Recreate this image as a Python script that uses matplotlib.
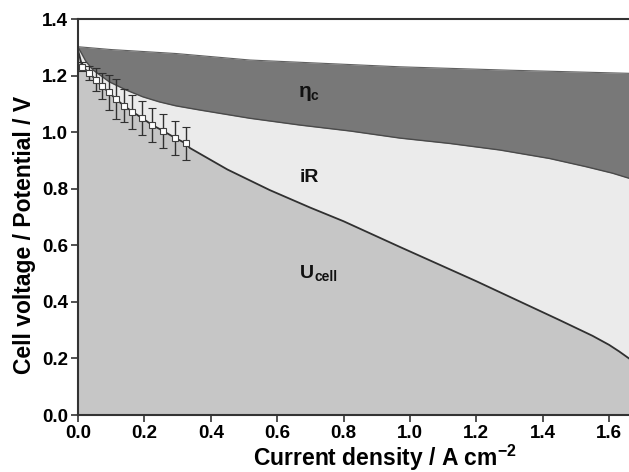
import matplotlib
matplotlib.use("Agg")
import matplotlib.pyplot as plt
import numpy as np

plt.rcParams['font.family'] = ['Liberation Sans', 'DejaVu Sans']
plt.rcParams['font.weight'] = 'bold'
plt.rcParams['mathtext.fontset'] = 'custom'
plt.rcParams['mathtext.rm'] = 'Liberation Sans:bold'
plt.rcParams['mathtext.bf'] = 'Liberation Sans:bold'
plt.rcParams['mathtext.it'] = 'Liberation Sans:bold'

# Upper boundary (eta_c region top)
top_x = [0.0, 0.1, 0.295, 0.518, 0.97, 1.3, 1.66]
top_y = [1.302, 1.292, 1.278, 1.255, 1.231, 1.219, 1.208]

# Boundary between eta_c and iR regions
mid_x = [0.0, 0.01, 0.024, 0.045, 0.094, 0.145, 0.195, 0.245, 0.295, 0.368, 0.518,
         0.669, 0.82, 0.97, 1.12, 1.27, 1.42, 1.53, 1.61, 1.66]
mid_y = [1.30, 1.28, 1.25, 1.22, 1.178, 1.149, 1.125, 1.107, 1.093, 1.078, 1.049,
         1.025, 1.004, 0.979, 0.960, 0.937, 0.907, 0.878, 0.855, 0.837]

# Cell voltage curve
cell_x = [0.0, 0.013, 0.033, 0.053, 0.071, 0.093, 0.114, 0.139, 0.164, 0.194, 0.224,
          0.257, 0.292, 0.325, 0.337, 0.45, 0.578, 0.7, 0.8, 0.97, 1.2, 1.45, 1.55,
          1.6, 1.63, 1.66]
cell_y = [1.29, 1.231, 1.210, 1.186, 1.163, 1.141, 1.117, 1.093, 1.072, 1.049, 1.025,
          1.004, 0.980, 0.960, 0.944, 0.868, 0.795, 0.733, 0.685, 0.594, 0.473, 0.336, 0.280,
          0.248, 0.225, 0.20]

# Measured points with error bars
meas_x = [0.013, 0.033, 0.053, 0.071, 0.093, 0.114, 0.139, 0.164, 0.194, 0.224, 0.257, 0.292, 0.325]
meas_y = [1.231, 1.210, 1.186, 1.163, 1.141, 1.117, 1.093, 1.072, 1.049, 1.025, 1.004, 0.980, 0.960]
meas_err = [0.016, 0.025, 0.04, 0.045, 0.062, 0.07, 0.058, 0.06, 0.06, 0.06, 0.06, 0.06, 0.057]

xticks = [0.0, 0.2, 0.4, 0.6, 0.8, 1.0, 1.2, 1.4, 1.6]
yticks = [0.0, 0.2, 0.4, 0.6, 0.8, 1.0, 1.2, 1.4]

fig = plt.figure(figsize=(6.29, 4.72), dpi=100)
ax = fig.add_axes([78/629, 1-415/472, 1-78/629, (415-19)/472])

ax.fill_between(top_x, top_y, 0, color='#787878', lw=0)
ax.plot(top_x, top_y, color='#606060', lw=0.8)
ax.fill_between(mid_x, mid_y, 0, color='#ebebeb', lw=0)
ax.plot(mid_x, mid_y, color='#4a4a4a', lw=1.0)
ax.fill_between(cell_x, cell_y, 0, color='#c6c6c6', lw=0)
ax.plot(cell_x, cell_y, color='#303030', lw=1.3)

ax.errorbar(meas_x, meas_y, yerr=meas_err, fmt='s', ms=4.5, mfc='white', mec='#404040',
            mew=0.8, ecolor='#303030', elinewidth=1.0, capsize=3, capthick=1.0, zorder=5)

ax.text(0.663, 1.124, r'$\eta$', fontsize=15, fontweight='normal', family=['DejaVu Sans'],
        va='baseline', ha='left', color='#111111')
ax.text(0.700, 1.112, 'c', fontsize=10, fontweight='bold', va='baseline', ha='left', color='#111111')
ax.text(0.669, 0.824, 'iR', fontsize=14, fontweight='bold', va='baseline', ha='left', color='#111111')
ax.text(0.669, 0.484, 'U', fontsize=14, fontweight='bold', va='baseline', ha='left', color='#111111')
ax.text(0.712, 0.472, 'cell', fontsize=10, fontweight='bold', va='baseline', ha='left', color='#111111')

ax.set_xlim(0, 1.66)
ax.set_ylim(0, 1.4)
ax.set_xticks(xticks)
ax.set_yticks(yticks)
ax.set_xticklabels([f'{v:.1f}' for v in xticks], fontsize=13.5, fontweight='bold')
ax.set_yticklabels([f'{v:.1f}' for v in yticks], fontsize=13.5, fontweight='bold')
ax.tick_params(direction='out', length=5, width=1.2, color='#333333', pad=2)
for s in ['left', 'bottom', 'top']:
    ax.spines[s].set_color('#333333')
    ax.spines[s].set_linewidth(1.5)
ax.spines['right'].set_visible(False)

ax.set_xlabel(r'Current density / A cm$^{-2}$', fontsize=16.5, fontweight='bold')
ax.set_ylabel('Cell voltage / Potential / V', fontsize=16.5, fontweight='bold')
ax.xaxis.set_label_coords((385-78)/551, -(466-415)/396)
ax.yaxis.set_label_coords(-(78-25)/551, (415-235)/396)
ax.xaxis.label.set_va('baseline')
ax.yaxis.label.set_va('center')

fig.savefig('out.png', dpi=100)
